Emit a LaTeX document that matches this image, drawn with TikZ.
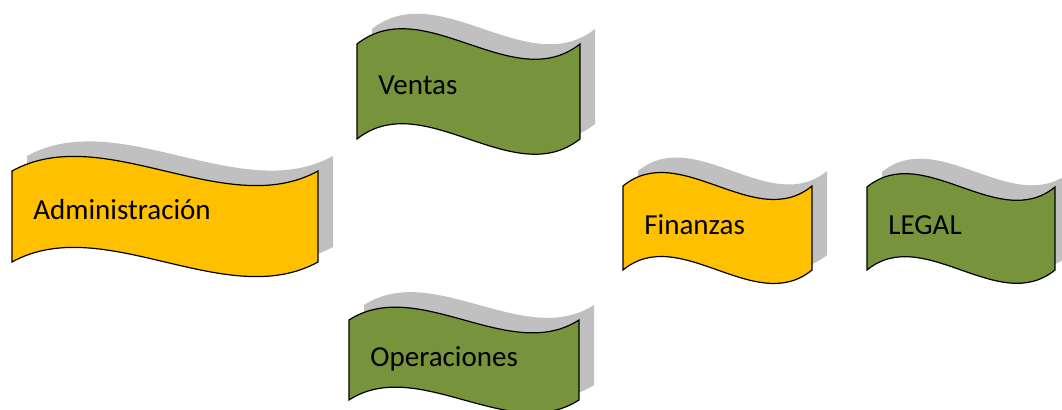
\documentclass[tikz,border=0pt]{standalone}
\usepackage{fontspec}
\setmainfont{Carlito}
\usetikzlibrary{positioning}

\definecolor{amarillo}{HTML}{FFC000}
\definecolor{verde}{HTML}{77933C}
\definecolor{sombra}{HTML}{C0C0C0}

% wave outline: left, top, right, bottom
\newcommand{\onda}[4]{(#1,#2) .. controls ({#1+0.3*(#3-#1)},{#2-0.556*(#4-#2)}) and ({#3-0.3*(#3-#1)},{#2+0.556*(#4-#2)}) .. (#3,#2)
  -- (#3,#4) .. controls ({#3-0.3*(#3-#1)},{#4+0.556*(#4-#2)}) and ({#1+0.3*(#3-#1)},{#4-0.556*(#4-#2)}) .. (#1,#4) -- cycle}

% name, left, top, right, bottom, colour, baseline, text
\newcommand{\banner}[8]{%
  \fill[sombra,shift={(15,-15)}] \onda{#2}{#3}{#4}{#5};
  \filldraw[fill=#6,draw=black,line width=0.6pt] \onda{#2}{#3}{#4}{#5};
  \node[etiqueta] (#1) at ({#2+21},#7) {#8};
}

\begin{document}
\begin{tikzpicture}[x=0.5pt,y=-0.5pt]
  \tikzstyle{etiqueta}=[anchor=base west,inner sep=0pt,font=\fontsize{14.5}{17}\selectfont]

  \clip (0,0) rectangle (1062,410);

  \banner{adm}{12}{171}{318}{262}{amarillo}{220}{Administración}
  \banner{ven}{357}{44}{580}{139}{verde}{95}{Ventas}
  \banner{ope}{349}{320}{579}{400}{verde}{367}{Operaciones}
  \banner{fin}{623}{186}{812}{270}{amarillo}{235}{Finanzas}
  \banner{leg}{867}{187}{1055}{270}{verde}{235}{LEGAL}
\end{tikzpicture}
\end{document}
